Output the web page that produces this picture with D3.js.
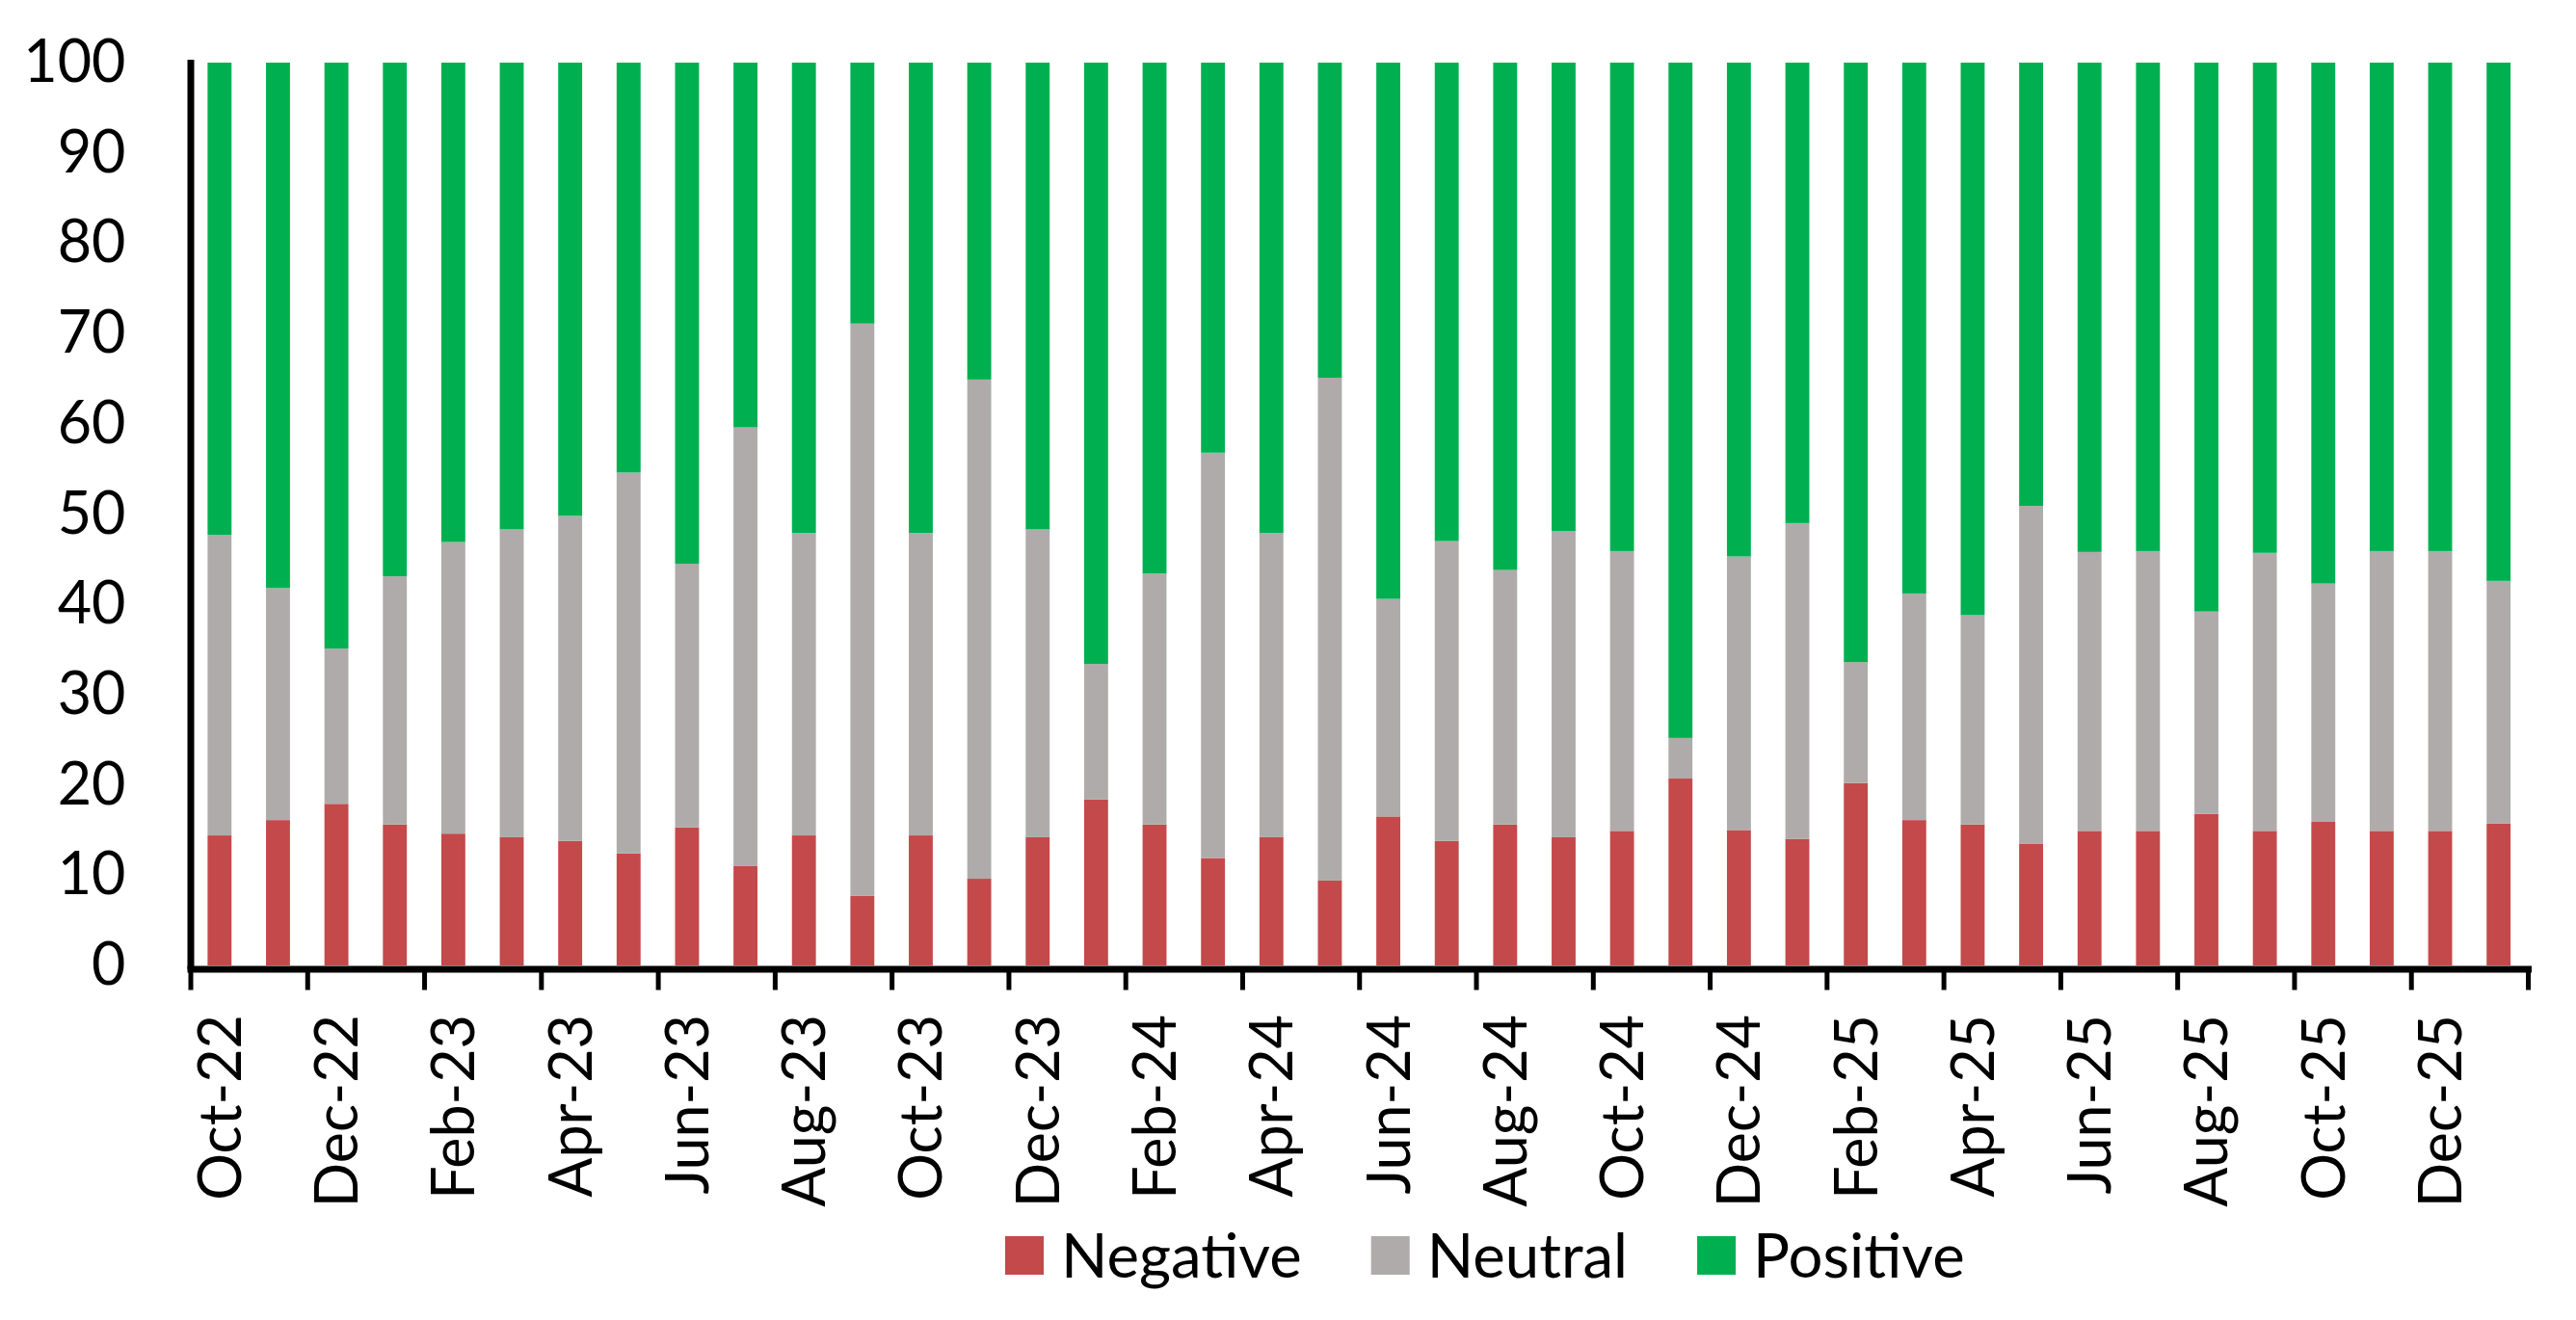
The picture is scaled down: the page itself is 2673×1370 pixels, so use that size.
<!DOCTYPE html>
<html>
<head>
<meta charset="utf-8">
<script src="https://cdn.jsdelivr.net/npm/d3@7"></script>
<style>
  html, body { margin: 0; padding: 0; background: #fff; }
  svg { display: block; font-family: Lato, "Open Sans", sans-serif; }
</style>
</head>
<body>
<div id="chart"></div>
<script>
// months on the x axis (one bar each)
var months = ['Oct-22','Nov-22','Dec-22','Jan-23','Feb-23','Mar-23','Apr-23','May-23','Jun-23','Jul-23',
  'Aug-23','Sep-23','Oct-23','Nov-23','Dec-23','Jan-24','Feb-24','Mar-24','Apr-24','May-24',
  'Jun-24','Jul-24','Aug-24','Sep-24','Oct-24','Nov-24','Dec-24','Jan-25','Feb-25','Mar-25',
  'Apr-25','May-25','Jun-25','Jul-25','Aug-25','Sep-25','Oct-25','Nov-25','Dec-25','Jan-26'];

// shares in %
var negative = [14.4,16.1,17.9,15.6,14.6,14.2,13.8,12.4,15.3,11.0,14.4,7.7,14.4,9.6,14.2,18.4,15.6,11.9,14.2,9.4,
  16.5,13.8,15.6,14.2,14.9,20.7,15.0,14.0,20.2,16.1,15.6,13.5,14.9,14.9,16.8,14.9,15.9,14.9,14.9,15.7];
var neutral = [33.3,25.7,17.2,27.5,32.3,34.1,36.0,42.2,29.2,48.6,33.5,63.4,33.5,55.3,34.1,15.0,27.8,44.9,33.7,55.7,
  24.1,33.2,28.2,33.9,31.0,4.5,30.3,35.0,13.4,25.1,23.2,37.4,30.9,31.0,22.4,30.8,26.4,31.0,31.0,26.9];
var positive = [52.3,58.2,64.9,56.9,53.1,51.7,50.2,45.4,55.5,40.4,52.1,28.9,52.1,35.1,51.7,66.6,56.6,43.2,52.1,34.9,
  59.4,53.0,56.2,51.9,54.1,74.8,54.7,51.0,66.4,58.8,61.2,49.1,54.2,54.1,60.8,54.3,57.7,54.1,54.1,57.4];

var seriesNames = ['Negative', 'Neutral', 'Positive'];
var seriesColors = ['#C4494A', '#AFABAB', '#00B050'];
var yTicks = [0, 10, 20, 30, 40, 50, 60, 70, 80, 90, 100];

(function () {
  var W = 2673, H = 1370;
  var plotLeft = 197.5, plotRight = 2623, plotTop = 65, plotBottom = 1002;

  var svg = d3.select('#chart').append('svg').attr('width', W).attr('height', H);

  var x = d3.scaleBand().domain(months).range([plotLeft, plotRight]).paddingInner(0.59).paddingOuter(0.295);
  var xi = d3.scaleLinear().domain([0, months.length]).range([plotLeft, plotRight]);
  var y = d3.scaleLinear().domain([0, 100]).range([plotBottom, plotTop]);

  // stacked rows
  var rows = months.map(function (m, i) {
    return { month: m, Negative: negative[i], Neutral: neutral[i], Positive: positive[i] };
  });
  var stacked = d3.stack().keys(seriesNames)(rows);

  svg.append('g')
    .selectAll('g')
    .data(stacked)
    .join('g')
    .attr('fill', function (d, i) { return seriesColors[i]; })
    .selectAll('rect')
    .data(function (d) { return d; })
    .join('rect')
    .attr('x', function (d) { return x(d.data.month); })
    .attr('width', x.bandwidth())
    .attr('y', function (d) { return y(Math.min(d[1], 100)); })
    .attr('height', function (d) { return y(d[0]) - y(Math.min(d[1], 100)); });

  // y axis
  var yAxis = svg.append('g')
    .attr('transform', 'translate(' + plotLeft + ',0)')
    .call(d3.axisLeft(y).tickValues(yTicks).tickSize(0).tickSizeOuter(0).tickPadding(67));
  yAxis.select('.domain').attr('stroke', '#000').attr('stroke-width', 7).attr('stroke-linecap', 'square');
  yAxis.selectAll('text').attr('font-size', 61).attr('fill', '#000').attr('font-family', 'Lato, sans-serif');

  // x axis (ticks on every second month boundary)
  var xAxis = svg.append('g')
    .attr('transform', 'translate(0,' + (plotBottom + 3.5) + ')')
    .call(d3.axisBottom(xi).tickValues(d3.range(0, months.length + 1, 2)).tickSize(22).tickSizeOuter(0).tickFormat(''));
  xAxis.select('.domain').attr('stroke', '#000').attr('stroke-width', 7).attr('stroke-linecap', 'square');
  xAxis.selectAll('.tick line').attr('stroke', '#000').attr('stroke-width', 5);

  // rotated month labels
  svg.append('g')
    .selectAll('text')
    .data(months.filter(function (m, i) { return i % 2 === 0; }))
    .join('text')
    .attr('transform', function (d) {
      return 'translate(' + (x(d) + x.bandwidth() / 2) + ',1053) rotate(-90)';
    })
    .attr('text-anchor', 'end')
    .attr('dy', '0.36em')
    .attr('font-size', 61)
    .text(function (d) { return d; });

  // legend
  var legend = svg.append('g').attr('transform', 'translate(1043,1283)');
  var lx = 0;
  seriesNames.forEach(function (name, i) {
    var g = legend.append('g').attr('transform', 'translate(' + lx + ',0)');
    g.append('rect').attr('width', 40).attr('height', 40).attr('fill', seriesColors[i]);
    var t = g.append('text')
      .attr('x', 58)
      .attr('y', 20)
      .attr('dy', '0.36em')
      .attr('font-size', 63.5)
      .text(name);
    lx += 58 + t.node().getComputedTextLength() + 72;
  });
})();
</script>
</body>
</html>
